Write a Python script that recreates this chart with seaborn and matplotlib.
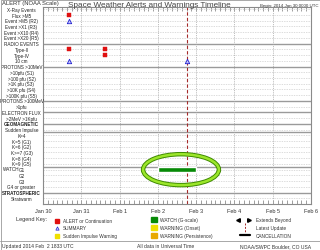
import numpy as np
import pandas as pd
import matplotlib
matplotlib.use("Agg")
import matplotlib.pyplot as plt
import matplotlib.dates as mdates
import matplotlib.transforms as mtransforms
from matplotlib.patches import Ellipse, Rectangle
from matplotlib.lines import Line2D
import seaborn as sns

# ---------------- data ----------------
row_labels = [
    "X-Ray Events", "Flux >M5", "Event >M5 (R2)", "Event >X1 (R3)", "Event >X10 (R4)",
    "Event >X20 (R5)", "RADIO EVENTS", "Type-II", "Type-IV", "10 cm",
    "PROTONS >10MeV", ">10pfu (S1)", ">100 pfu (S2)", ">1K pfu (S3)", ">10K pfu (S4)",
    ">100K pfu (S5)", "PROTONS >100MeV", ">1pfu", "ELECTRON FLUX", ">2MeV >1Kpfu",
    "GEOMAGNETIC", "Sudden Impulse", "K=4", "K=5 (G1)", "K=6 (G2)", "K>=7 (G3)",
    "K=8 (G4)", "K=9 (G5)", "G1", "G2", "G3", "G4 or greater", "STRATOSPHERIC", "Stratwarm",
]
header_rows = ["RADIO EVENTS", "PROTONS >10MeV", "PROTONS >100MeV", "ELECTRON FLUX",
               "GEOMAGNETIC", "STRATOSPHERIC"]

alert_rows = ["Flux >M5", "Type-II", "Type-II", "Type-IV"]
alert_times = ["2014-01-30 16:00", "2014-01-30 16:30", "2014-01-31 15:00", "2014-01-31 15:00"]

summary_rows = ["Event >M5 (R2)", "10 cm", "10 cm"]
summary_times = ["2014-01-30 16:00", "2014-01-30 16:30", "2014-02-02 18:00"]

watch_rows = ["G1"]
watch_start = ["2014-02-02 00:00"]
watch_end = ["2014-02-03 00:00"]

latest_update = "2014-02-02 18:33"
day_labels = ["Jan 30", "Jan 31", "Feb 1", "Feb 2", "Feb 3", "Feb 4", "Feb 5", "Feb 6"]
day_dates = ["2014-01-30", "2014-01-31", "2014-02-01", "2014-02-02", "2014-02-03",
             "2014-02-04", "2014-02-05", "2014-02-06"]

# ---------------- prep ----------------
row_index = {lab: i for i, lab in enumerate(row_labels)}
def tnum(s):
    return mdates.date2num(pd.to_datetime(s))

alerts = pd.DataFrame({"t": [tnum(s) for s in alert_times],
                       "row": [row_index[r] for r in alert_rows]})
summ = pd.DataFrame({"t": [tnum(s) for s in summary_times],
                     "row": [row_index[r] for r in summary_rows]})
days = [tnum(d) for d in day_dates]

sns.set_style("white")
plt.rcParams["font.family"] = ["Liberation Sans", "DejaVu Sans"]

W, H = 320, 251
fig = plt.figure(figsize=(W / 100, H / 100), dpi=100)
fig.patch.set_facecolor("white")

def fx(px):
    return px / W
def fy(py):
    return 1 - py / H

ax = fig.add_axes([fx(43), fy(205), (311 - 43) / W, (205 - 8) / H])
row_px0, row_step = 10.3, 5.727
ax.set_ylim((205 - row_px0) / row_step, (8 - row_px0) / row_step)
ax.set_xlim(days[0], days[-1])

# row grid lines
for lab, i in row_index.items():
    if lab in header_rows:
        ax.axhline(i, color="#9a9a9a", lw=1.0, zorder=1)
    else:
        ax.axhline(i, color="#cfcfcf", lw=0.5, ls=(0, (2, 1.5)), zorder=1)
for b in [row_index["Sudden Impulse"] + 0.5, row_index["K=9 (G5)"] + 0.5]:
    ax.axhline(b, color="#9a9a9a", lw=1.0, zorder=1)

# day grid
ax.vlines(days[1:-1], *ax.get_ylim(), colors="#a8a8a8", lw=0.6, ls=(0, (1, 1.2)), zorder=1)

# watch bar
ws = np.array([tnum(s) for s in watch_start])
we = np.array([tnum(s) for s in watch_end])
ax.barh([row_index[r] for r in watch_rows], we - ws, left=ws, height=0.9,
        color="#078a07", zorder=3)

# latest update line
ax.axvline(tnum(latest_update), color="#a52a2a", lw=0.8, ls=(0, (3, 2)), zorder=2)

# markers
sns.scatterplot(data=alerts, x="t", y="row", ax=ax, marker="s", s=10,
                color="#e01010", edgecolor="#e01010", linewidth=0.3, zorder=4, legend=False)
sns.scatterplot(data=summ, x="t", y="row", ax=ax, marker="^", s=10,
                facecolor="#c8c8ff", edgecolor="#2020d0", linewidth=0.6, zorder=4, legend=False)

# highlight ellipse
cx = tnum("2014-02-02 14:30")
ecolors = [("#3f8a00", 3.2), ("#9be62a", 1.8)]
for c, lw in ecolors:
    ax.add_patch(Ellipse((cx, row_index["G1"]), width=1.98, height=5.4,
                         fill=False, edgecolor=c, lw=lw, zorder=5))

# axes styling
ax.set_xlabel("")
ax.set_ylabel("")
ax.set_yticks([])
ax.set_xticks(days)
ax.set_xticklabels(day_labels, fontsize=4, color="#333333")
ax.set_xticks(np.arange(days[0], days[-1] + 1e-6, 0.125), minor=True)
ax.tick_params(axis="x", which="both", direction="in", top=True, bottom=True,
               length=2.6, width=0.5, color="#777777", pad=3)
for sp in ax.spines.values():
    sp.set_color("#8a8a8a")
    sp.set_linewidth(0.8)

# row labels
trans = mtransforms.blended_transform_factory(fig.transFigure, ax.transData)
for lab, i in row_index.items():
    bold = lab in ("GEOMAGNETIC", "STRATOSPHERIC")
    ax.text(fx(21.5), i, lab, transform=trans, ha="center", va="center",
            fontsize=3.3, color="#222222", fontweight="bold" if bold else "normal",
            clip_on=False)
ax.text(fx(3), row_index["G1"] - 0.25, "WATCH", transform=trans, ha="left", va="center",
        fontsize=3.3, color="#222222", clip_on=False)

# header texts
fig.text(fx(2), fy(3.5), "ALERT (NOAA Scale)", fontsize=4.2, color="#333333",
         ha="left", va="center")
fig.text(fx(149), fy(5.5), "Space Weather Alerts and Warnings Timeline", fontsize=5.9,
         color="#444444", ha="center", va="center")
fig.text(fx(318), fy(5.5), "Begin: 2014 Jan 30 0000 UTC", fontsize=3.2, color="#333333",
         ha="right", va="center")

# legend
fs = 3.4
fig.text(fx(16), fy(220), "Legend Key:", fontsize=4, color="#333333", ha="left", va="center")
fig.add_artist(Line2D([fx(57)], [fy(221.5)], marker="s", ms=2.2, color="#e01010", lw=0))
fig.add_artist(Line2D([fx(57)], [fy(229)], marker="^", ms=2.4, mfc="#c8c8ff",
                      mec="#2020d0", mew=0.5, lw=0))
fig.add_artist(Line2D([fx(57)], [fy(236.5)], marker="s", ms=2.2, color="#f0e000", lw=0))
fig.text(fx(63), fy(221.7), "ALERT or Continuation", fontsize=fs, color="#333333", va="center")
fig.text(fx(63), fy(229), "SUMMARY", fontsize=fs, color="#333333", va="center")
fig.text(fx(63), fy(236.5), "Sudden Impulse Warning", fontsize=fs, color="#333333", va="center")

for yy, col, txt in [(220.5, "#078a07", "WATCH (G-scale)"),
                     (228.5, "#f0e000", "WARNING (Onset)"),
                     (236.5, "#e8a800", "WARNING (Persistence)")]:
    fig.add_artist(Rectangle((fx(151), fy(yy + 2.5)), 6 / W, 5 / H, color=col))
    fig.text(fx(160), fy(yy), txt, fontsize=fs, color="#333333", va="center")

fig.add_artist(Line2D([fx(238)], [fy(220.7)], marker="<", ms=2.6, color="black", lw=0))
fig.add_artist(Line2D([fx(249)], [fy(220.7)], marker=">", ms=2.6, color="black", lw=0))
fig.text(fx(256), fy(220.7), "Extends Beyond", fontsize=fs, color="#333333", va="center")
fig.add_artist(Line2D([fx(244.5), fx(244.5)], [fy(224), fy(233)], color="#a52a2a",
                      lw=0.7, ls=(0, (2, 1.5))))
fig.text(fx(256), fy(228.3), "Latest Update", fontsize=fs, color="#333333", va="center")
fig.add_artist(Line2D([fx(240), fx(250)], [fy(236.3), fy(236.3)], color="black", lw=1.6))
fig.text(fx(256), fy(236.3), "CANCELLATION", fontsize=fs, color="#333333", va="center")

# footer
fig.add_artist(Line2D([0, 1], [fy(242), fy(242)], color="#9a9a9a", lw=0.6))
fig.text(fx(2), fy(246.8), "Updated 2014 Feb  2 1833 UTC", fontsize=3.6, color="#333333",
         va="center")
fig.text(fx(166), fy(246.8), "All data in Universal Time", fontsize=3.6, color="#333333",
         va="center", ha="center")
fig.text(fx(311), fy(246.8), "NOAA/SWPC Boulder, CO USA", fontsize=3.6, color="#333333",
         va="center", ha="right")
fig.add_artist(Rectangle((0.5 / W, 0.5 / H), 1 - 1 / W, 1 - 1 / H, fill=False,
                         edgecolor="#9a9a9a", lw=0.6))

fig.savefig("out.png", dpi=100, facecolor="white")
